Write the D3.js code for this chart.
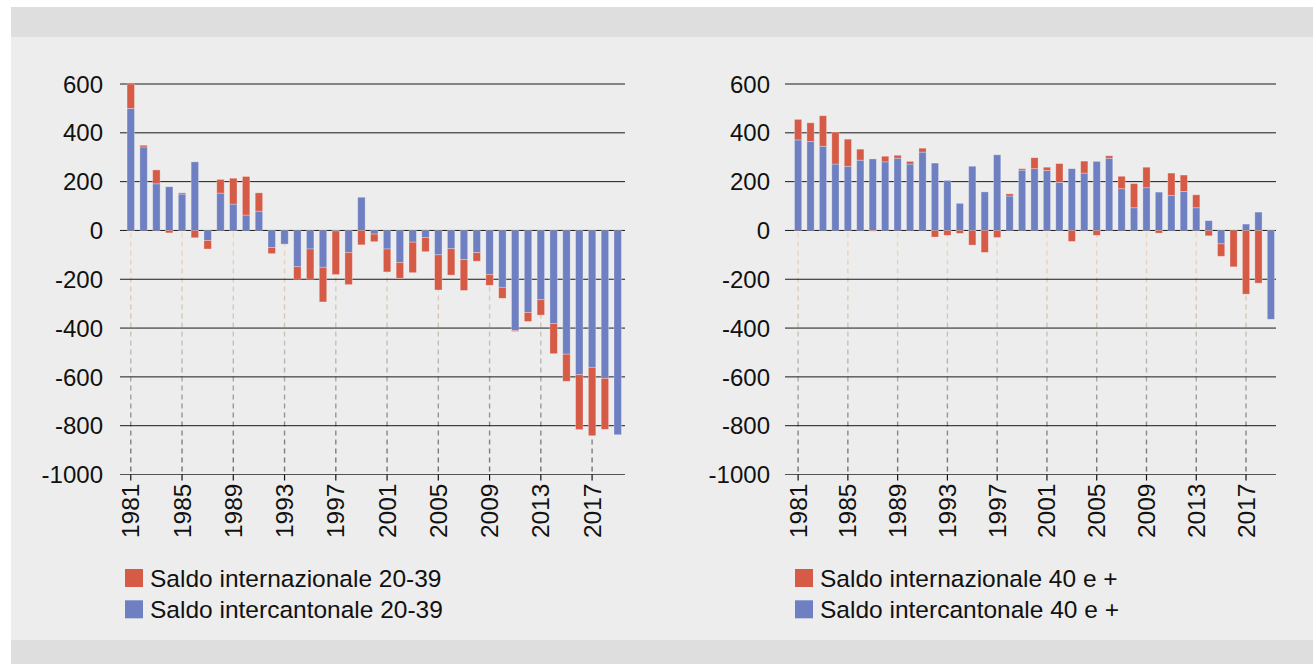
<!DOCTYPE html>
<html>
<head>
<meta charset="utf-8">
<script src="https://cdn.jsdelivr.net/npm/d3@7"></script>
<style>
    body { margin: 0; background: #ffffff; }
    svg { display: block; }
    text { font-family: "Liberation Sans", Arial, sans-serif; fill: #111; }
</style>
</head>
<body>
<svg id="chart" width="1313" height="664"></svg>
<script>
// anni 1981 - 2019
var years = d3.range(1981, 2020);
var tickYears = [1981, 1985, 1989, 1993, 1997, 2001, 2005, 2009, 2013, 2017];
var yTicks = [600, 400, 200, 0, -200, -400, -600, -800, -1000];

// classe 20-39
var interc2039 = [500, 342, 191, 179, 149, 281, -41, 153, 108, 63,
    79, -70, -56, -149, -76, -151, -2, -90, 136, -15,
    -76, -131, -48, -29, -100, -75, -119, -91, -180, -233,
    -410, -336, -284, -381, -507, -591, -561, -606, -837];
var intern2039 = [100, 7, 57, -10, 5, -30, -35, 56, 106, 158,
    75, -25, 0, -51, -124, -142, -179, -132, -59, -31,
    -94, -65, -125, -58, -144, -108, -127, -35, -45, -45,
    -4, -37, -63, -124, -111, -225, -280, -209, 0];

// classe 40 e +
var interc40 = [371, 364, 345, 272, 263, 288, 293, 281, 296, 272,
    321, 276, 205, 111, 263, 158, 310, 141, 247, 253,
    246, 197, 253, 235, 283, 296, 171, 93, 175, 157,
    143, 160, 93, 40, -55, 0, 26, 75, -364];
var intern40 = [84, 77, 125, 131, 111, 45, -3, 23, 12, 11,
    16, -27, -20, -12, -60, -90, -29, 9, 6, 45,
    13, 77, -45, 49, -20, 10, 51, 99, 84, -11,
    92, 67, 53, -22, -51, -149, -261, -216, 0];

var red = '#d65b47';
var blue = '#6e80c1';

var svg = d3.select('#chart');

// sfondo
svg.append('rect').attr('x', 11).attr('y', 7).attr('width', 1302).attr('height', 657).attr('fill', '#ededed');
svg.append('rect').attr('x', 11).attr('y', 7).attr('width', 1302).attr('height', 30).attr('fill', '#dedede');
svg.append('rect').attr('x', 11).attr('y', 640).attr('width', 1302).attr('height', 24).attr('fill', '#dedede');

var defs = svg.append('defs');

function drawChart(opt) {
    var y = d3.scaleLinear().domain([-1000, 600]).range([474.5, 84]);
    var x = d3.scaleBand().domain(years)
        .range([opt.x0, opt.x1]).paddingInner(0.42).paddingOuter(0.2);

    var g = svg.append('g');

    var rows = years.map(function (yr, i) {
        return {year: yr, interc: opt.interc[i], intern: opt.intern[i]};
    });
    var series = d3.stack().keys(['interc', 'intern'])
        .offset(d3.stackOffsetDiverging)(rows);

    // linee tratteggiate verticali
    var gradId = 'drop' + opt.id;
    var grad = defs.append('linearGradient').attr('id', gradId)
        .attr('gradientUnits', 'userSpaceOnUse')
        .attr('x1', 0).attr('x2', 0).attr('y1', y(0)).attr('y2', y(-1000));
    grad.append('stop').attr('offset', '0%').attr('stop-color', '#f0d8c0');
    grad.append('stop').attr('offset', '45%').attr('stop-color', '#c9c0b6');
    grad.append('stop').attr('offset', '100%').attr('stop-color', '#6e6e6e');

    g.selectAll('line.drop')
        .data(tickYears)
        .enter()
        .append('line')
        .attr('class', 'drop')
        .attr('x1', function (d) { return x(d) + x.bandwidth() / 2; })
        .attr('x2', function (d) { return x(d) + x.bandwidth() / 2; })
        .attr('y1', y(0) + 2).attr('y2', y(-1000))
        .attr('stroke', 'url(#' + gradId + ')')
        .attr('stroke-width', 1.4)
        .attr('stroke-dasharray', '5,4');

    // griglia
    g.selectAll('line.grid')
        .data(yTicks)
        .enter()
        .append('line')
        .attr('class', 'grid')
        .attr('x1', opt.gx0).attr('x2', opt.gx1)
        .attr('y1', function (d) { return y(d); })
        .attr('y2', function (d) { return y(d); })
        .attr('stroke', function (d) { return d === -1000 ? '#555' : '#1a1a1a'; })
        .attr('stroke-width', 1);

    // barre
    g.selectAll('g.series')
        .data(series)
        .enter()
        .append('g')
        .attr('fill', function (d) { return d.key === 'interc' ? blue : red; })
        .selectAll('rect')
        .data(function (d) { return d; })
        .enter()
        .append('rect')
        .attr('x', function (d) { return x(d.data.year); })
        .attr('width', x.bandwidth())
        .attr('y', function (d) { return y(Math.max(d[0], d[1])); })
        .attr('height', function (d) { return Math.abs(y(d[0]) - y(d[1])); })
        .attr('stroke', 'rgba(255,255,255,0.35)')
        .attr('stroke-width', 0.8);

    // tacche asse x
    g.selectAll('line.tick')
        .data(tickYears)
        .enter()
        .append('line')
        .attr('x1', function (d) { return x(d) + x.bandwidth() / 2; })
        .attr('x2', function (d) { return x(d) + x.bandwidth() / 2; })
        .attr('y1', y(-1000)).attr('y2', y(-1000) + 6)
        .attr('stroke', '#111').attr('stroke-width', 1.2);

    // etichette asse y
    g.selectAll('text.ylab')
        .data(yTicks)
        .enter()
        .append('text')
        .attr('x', opt.labX)
        .attr('y', function (d) { return y(d); })
        .attr('dy', '0.36em')
        .attr('text-anchor', 'end')
        .style('font-size', '24px')
        .text(function (d) { return d; });

    // etichette asse x
    g.selectAll('text.xlab')
        .data(tickYears)
        .enter()
        .append('text')
        .attr('transform', function (d) {
            return 'translate(' + (x(d) + x.bandwidth() / 2 + 8.5) + ',' + (y(-1000) + 9) + ') rotate(-90)';
        })
        .attr('text-anchor', 'end')
        .style('font-size', '24.5px')
        .text(function (d) { return d; });

    // legenda
    var leg = g.append('g').attr('transform', 'translate(' + opt.legX + ',569)');
    var items = [[red, opt.names[0]], [blue, opt.names[1]]];
    items.forEach(function (it, i) {
        leg.append('rect').attr('x', 0).attr('y', i * 31.3)
            .attr('width', 18).attr('height', 18).attr('fill', it[0]);
        leg.append('text').attr('x', 25).attr('y', i * 31.3 + 18)
            .style('font-size', '24.5px')
            .text(it[1]);
    });
}

drawChart({
    id: 'L', interc: interc2039, intern: intern2039,
    x0: 124.5, x1: 624, gx0: 120, gx1: 625, labX: 103, legX: 125,
    names: ['Saldo internazionale 20-39', 'Saldo intercantonale 20-39']
});
drawChart({
    id: 'R', interc: interc40, intern: intern40,
    x0: 792, x1: 1277, gx0: 785, gx1: 1276, labX: 770, legX: 795,
    names: ['Saldo internazionale 40 e +', 'Saldo intercantonale 40 e +']
});
</script>
</body>
</html>
